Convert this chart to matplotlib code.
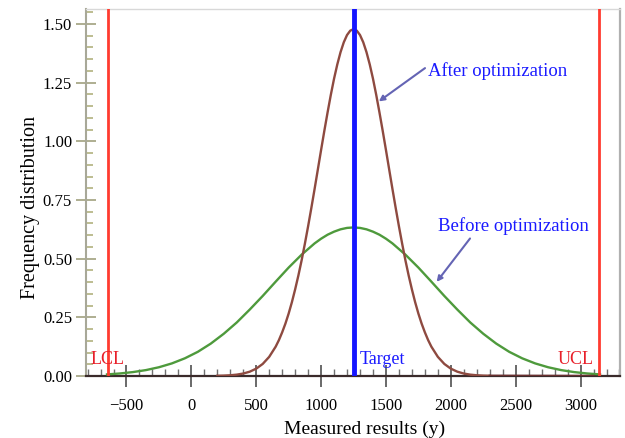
import numpy as np
import matplotlib
matplotlib.use("Agg")
import matplotlib.pyplot as plt
from matplotlib.ticker import MultipleLocator, FormatStrFormatter

plt.rcParams['font.family'] = ['Liberation Serif', 'DejaVu Serif']

# ---- data ----
after_x = (list(range(200, 601, 50)) + list(range(650, 1851, 25))
           + list(range(1900, 2301, 50)))
after_y = [0.0008, 0.0016, 0.0030, 0.0057, 0.0104, 0.0183, 0.0312, 0.0513, 0.0815,
           0.125, 0.153, 0.186, 0.2232, 0.266, 0.3145, 0.369, 0.4282, 0.493, 0.5634,
           0.638, 0.7162, 0.797, 0.8799, 0.963, 1.0445, 1.123, 1.198, 1.267, 1.3278,
           1.380, 1.4221, 1.453, 1.4717, 1.478, 1.4717, 1.453, 1.4221, 1.380, 1.3278,
           1.267, 1.198, 1.123, 1.0445, 0.963, 0.8799, 0.797, 0.7162, 0.638, 0.5634,
           0.493, 0.4282, 0.369, 0.3145, 0.266, 0.2232, 0.186, 0.153, 0.125,
           0.0815, 0.0513, 0.0312, 0.0183, 0.0104, 0.0057, 0.0030, 0.0016, 0.0008]
after_tail_x = [2300, 3100]
after_tail_y = [0.0008, 0.0]

before_x = (list(range(-650, 951, 100)) + list(range(1000, 1501, 50))
            + list(range(1550, 3151, 100)))
before_y = [0.0067, 0.0107, 0.0166, 0.0251, 0.0372, 0.0536, 0.0753, 0.103, 0.138,
            0.180, 0.228, 0.283, 0.341, 0.402, 0.462, 0.517, 0.565,
            0.585, 0.602, 0.615, 0.625, 0.631, 0.633, 0.631, 0.625, 0.615, 0.602, 0.585,
            0.565, 0.517, 0.462, 0.402, 0.341, 0.283, 0.228,
            0.180, 0.138, 0.103, 0.0753, 0.0536, 0.0372, 0.0251, 0.0166, 0.0107,
            0.0067]

lcl = -640
ucl = 3140
target = 1250

x_ticks = [-500, 0, 500, 1000, 1500, 2000, 2500, 3000]
y_ticks = [0.00, 0.25, 0.50, 0.75, 1.00, 1.25, 1.50]

# ---- figure ----
fig = plt.figure(figsize=(6.25, 4.38), dpi=100)
ax = fig.add_axes([0.1376, 0.1416, 0.8544, 0.8379])

ax.plot(before_x, before_y, color='#4e9a3c', lw=1.7, zorder=3)
ax.plot(after_x, after_y, color='#8e4a40', lw=1.7, zorder=3)
ax.plot(after_tail_x, after_tail_y, color='#6a3030', lw=1.7, zorder=3)

ax.axvline(lcl, color='#ff3b30', lw=2.0, zorder=4)
ax.axvline(ucl, color='#ff3b30', lw=2.0, zorder=4)
ax.axvline(target, color='#1515ff', lw=3.5, zorder=5)

ax.set_xlim(-812, 3304)
ax.set_ylim(0, 1.564)

ax.xaxis.set_major_locator(plt.FixedLocator(x_ticks))
ax.xaxis.set_minor_locator(MultipleLocator(100))
ax.yaxis.set_major_locator(plt.FixedLocator(y_ticks))
ax.yaxis.set_minor_locator(MultipleLocator(0.05))
ax.yaxis.set_major_formatter(FormatStrFormatter('%.2f'))

ax.tick_params(axis='x', which='major', direction='inout', length=16, width=1.2,
               color='#505050', labelsize=12, pad=8)
ax.tick_params(axis='x', which='minor', direction='in', length=5, width=1.0,
               color='#707070')
ax.tick_params(axis='y', which='major', direction='inout', length=14, width=1.3,
               color='#a8a888', labelsize=12, pad=3)
ax.tick_params(axis='y', which='minor', direction='in', length=5, width=1.3,
               color='#b8b888')

ax.spines['top'].set_color('#d8d8d8')
ax.spines['top'].set_linewidth(1.0)
ax.spines['right'].set_color('#b0b0b0')
ax.spines['right'].set_linewidth(1.6)
ax.spines['left'].set_color('#a8a898')
ax.spines['left'].set_linewidth(1.5)
ax.spines['bottom'].set_color('#3a2a2a')
ax.spines['bottom'].set_linewidth(1.6)

ax.set_xlabel('Measured results (y)', fontsize=14)
ax.set_ylabel('Frequency distribution', fontsize=14.5)
ax.xaxis.set_label_coords(0.522, -0.122)
ax.yaxis.set_label_coords(-0.086, 0.459)

blue = '#1a1aff'
red = '#e8202a'
arrow_col = '#6464b4'

ax.text(1826, 1.301, 'After optimization', color=blue, fontsize=13.5,
        va='center', ha='left', zorder=6)
ax.annotate('', xy=(1445, 1.17), xytext=(1801, 1.312),
            arrowprops=dict(arrowstyle='-|>', color=arrow_col, lw=1.5,
                            mutation_scale=8, shrinkA=0, shrinkB=0), zorder=6)
ax.text(1900, 0.639, 'Before optimization', color=blue, fontsize=13.5,
        va='center', ha='left', zorder=6)
ax.annotate('', xy=(1891, 0.401), xytext=(2148, 0.586),
            arrowprops=dict(arrowstyle='-|>', color=arrow_col, lw=1.5,
                            mutation_scale=8, shrinkA=0, shrinkB=0), zorder=6)

ax.text(-778, 0.069, 'LCL', color=red, fontsize=13, va='center', ha='left', zorder=6)
ax.text(2827, 0.069, 'UCL', color=red, fontsize=13, va='center', ha='left', zorder=6)
ax.text(1294, 0.071, 'Target', color=blue, fontsize=13, va='center', ha='left', zorder=6)

fig.savefig('out.png', dpi=100)
